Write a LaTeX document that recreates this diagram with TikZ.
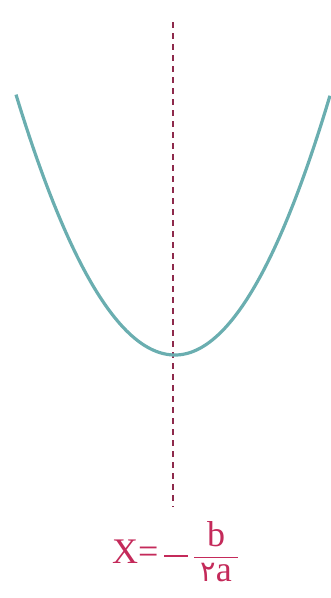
\documentclass[tikz,border=0pt]{standalone}
\usepackage{fontspec}
\setmainfont{Liberation Serif}
\newfontfamily\persianfont[Script=Arabic,Scale=0.8]{DejaVu Sans}
\usetikzlibrary{positioning}
\definecolor{curveteal}{HTML}{6AAEB0}
\definecolor{axiscrimson}{HTML}{8E2A4C}
\definecolor{labelred}{HTML}{C42A5A}
\setlength{\arrayrulewidth}{1.6pt}

\begin{document}
\begin{tikzpicture}[x=1pt,y=-1pt,
  curve/.style={draw=curveteal, line width=3.2pt},
  symaxis/.style={draw=axiscrimson, line width=2.6pt, dash pattern=on 6pt off 5pt},
  eqlabel/.style={text=labelred, font=\fontsize{36}{40}\selectfont, inner sep=0pt}]
\useasboundingbox (0,0) rectangle (331,598);

% axis of symmetry
\coordinate (axtop) at (173,22);
\coordinate (axbot) at (173,507);
\coordinate (vertex) at (175,355);
\draw[symaxis] (axtop) -- (axbot);

% the parabola, two halves
\draw[curve] plot[domain=-1.59:0, samples=60, smooth] ({175+100*\x},{355-103*\x*\x});
\draw[curve] plot[domain=0:1.55, samples=60, smooth] ({175+100*\x},{355-108*\x*\x});

% x = -b/2a
\node[eqlabel, anchor=base] (eq) at (175,563) {X=\,\rule[6.5pt]{24pt}{1.6pt}\,\renewcommand{\arraystretch}{0.85}\begin{tabular}[c]{@{\,}c@{\,}}b\\\hline{\persianfont ۲}a\end{tabular}};
\end{tikzpicture}
\end{document}
